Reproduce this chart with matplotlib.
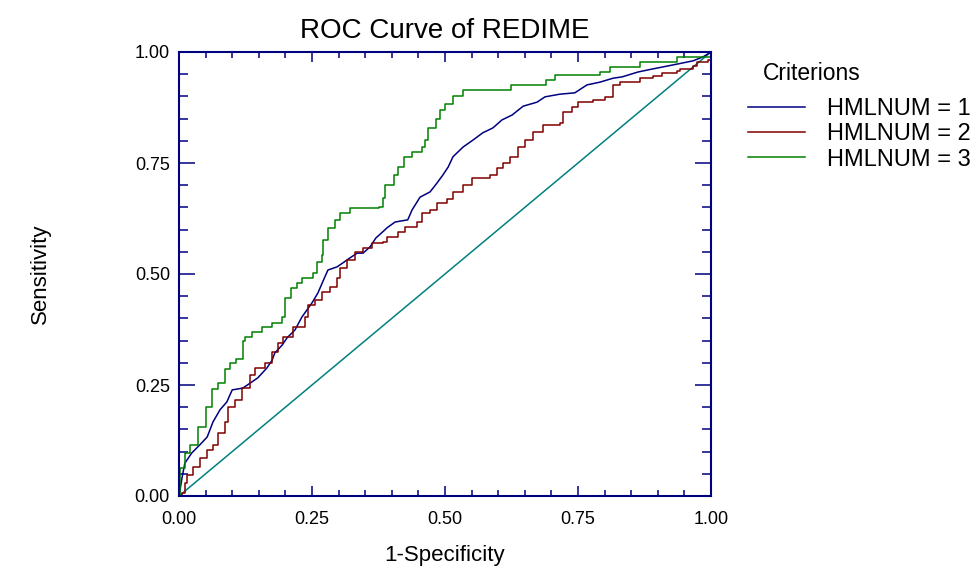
import numpy as np
import matplotlib
matplotlib.use("Agg")
import matplotlib.pyplot as plt
from matplotlib.ticker import MultipleLocator, FormatStrFormatter

plt.rcParams["font.family"] = ["Liberation Sans", "DejaVu Sans"]

# ROC coordinates (1-specificity, sensitivity) per criterion
fpr_1 = [0, 0.006, 0.011, 0.024, 0.039, 0.053, 0.064, 0.077, 0.090, 0.100, 0.120, 0.148,
         0.165, 0.175, 0.180, 0.194, 0.203, 0.218, 0.231, 0.250, 0.261, 0.274, 0.280, 0.297,
         0.308, 0.321, 0.335, 0.346, 0.359, 0.370, 0.383, 0.391, 0.406, 0.430, 0.438, 0.453,
         0.472, 0.485, 0.496, 0.506, 0.515, 0.534, 0.553, 0.571, 0.590, 0.607, 0.626, 0.647,
         0.673, 0.688, 0.716, 0.744, 0.767, 0.791, 0.816, 0.833, 0.863, 0.891, 0.929, 0.966,
         0.985, 1.0]
tpr_1 = [0, 0.043, 0.074, 0.097, 0.115, 0.133, 0.167, 0.194, 0.212, 0.239, 0.243, 0.266,
         0.288, 0.306, 0.322, 0.340, 0.356, 0.374, 0.403, 0.435, 0.457, 0.493, 0.509, 0.516,
         0.525, 0.536, 0.547, 0.547, 0.561, 0.581, 0.595, 0.604, 0.617, 0.622, 0.644, 0.673,
         0.685, 0.705, 0.723, 0.741, 0.764, 0.786, 0.802, 0.818, 0.829, 0.847, 0.858, 0.878,
         0.887, 0.899, 0.905, 0.908, 0.926, 0.932, 0.941, 0.944, 0.955, 0.962, 0.971, 0.980,
         0.989, 1.0]

fpr_2 = [0, 0.006, 0.011, 0.015, 0.026, 0.039, 0.053, 0.064, 0.073, 0.086, 0.092, 0.105,
         0.118, 0.133, 0.143, 0.162, 0.175, 0.186, 0.195, 0.214, 0.237, 0.242, 0.256, 0.269,
         0.284, 0.297, 0.303, 0.316, 0.331, 0.346, 0.363, 0.383, 0.391, 0.412, 0.425, 0.447,
         0.457, 0.472, 0.485, 0.504, 0.515, 0.534, 0.551, 0.585, 0.598, 0.609, 0.622, 0.637,
         0.650, 0.665, 0.684, 0.716, 0.722, 0.739, 0.750, 0.778, 0.801, 0.816, 0.829, 0.867,
         0.891, 0.908, 0.936, 0.942, 0.966, 0.974, 0.994, 1.0]
tpr_2 = [0, 0.007, 0.029, 0.047, 0.065, 0.086, 0.104, 0.115, 0.142, 0.167, 0.200, 0.216,
         0.243, 0.273, 0.288, 0.300, 0.324, 0.345, 0.358, 0.381, 0.403, 0.430, 0.441, 0.459,
         0.471, 0.491, 0.514, 0.532, 0.550, 0.559, 0.570, 0.572, 0.583, 0.595, 0.606, 0.617,
         0.637, 0.644, 0.660, 0.669, 0.685, 0.700, 0.716, 0.723, 0.739, 0.750, 0.764, 0.786,
         0.802, 0.820, 0.836, 0.840, 0.865, 0.876, 0.887, 0.892, 0.899, 0.926, 0.932, 0.941,
         0.946, 0.953, 0.957, 0.962, 0.968, 0.977, 0.982, 1.0]

fpr_3 = [0, 0.002, 0.011, 0.021, 0.036, 0.051, 0.062, 0.073, 0.086, 0.096, 0.107, 0.120,
         0.124, 0.137, 0.156, 0.175, 0.194, 0.199, 0.211, 0.222, 0.231, 0.252, 0.259, 0.269,
         0.271, 0.280, 0.293, 0.303, 0.321, 0.376, 0.383, 0.387, 0.404, 0.412, 0.423, 0.438,
         0.457, 0.462, 0.468, 0.483, 0.491, 0.500, 0.515, 0.534, 0.624, 0.690, 0.707, 0.791,
         0.795, 0.810, 0.867, 0.936, 0.992, 1.0]
tpr_3 = [0, 0.063, 0.097, 0.115, 0.155, 0.200, 0.241, 0.255, 0.286, 0.300, 0.309, 0.349,
         0.358, 0.369, 0.381, 0.390, 0.403, 0.446, 0.468, 0.480, 0.491, 0.502, 0.527, 0.543,
         0.577, 0.604, 0.622, 0.637, 0.649, 0.651, 0.671, 0.700, 0.723, 0.741, 0.764, 0.775,
         0.786, 0.802, 0.829, 0.849, 0.869, 0.883, 0.901, 0.914, 0.926, 0.937, 0.948, 0.955,
         0.955, 0.966, 0.977, 0.989, 0.989, 1.0]

labels = ["HMLNUM = 1", "HMLNUM = 2", "HMLNUM = 3"]
colors = ["#000080", "#800000", "#008000"]
NAVY = "#000080"

fig = plt.figure(figsize=(9.78, 5.66), dpi=100)
ax = fig.add_axes([179 / 978, 70 / 566, 532 / 978, 444 / 566])

ax.plot([0, 1], [0, 1], color="#008080", lw=1.1, zorder=1)
curves = [(fpr_1, tpr_1, "default"), (fpr_2, tpr_2, "steps-post"),
          (fpr_3, tpr_3, "steps-post")]
for (x, y, ds), lab, c in zip(curves, labels, colors):
    ax.plot(x, y, color=c, lw=1.1, label=lab, drawstyle=ds, zorder=2)

ax.set_xlim(0, 1)
ax.set_ylim(0, 1)
for a in (ax.xaxis, ax.yaxis):
    a.set_major_locator(MultipleLocator(0.25))
    a.set_minor_locator(MultipleLocator(0.05))
    a.set_major_formatter(FormatStrFormatter("%.2f"))

for s in ax.spines.values():
    s.set_color(NAVY)
    s.set_linewidth(1.5)
ax.tick_params(which="both", direction="in", top=True, right=True, color=NAVY,
               width=1.1, labelsize=13, labelcolor="black")
ax.tick_params(axis="x", which="major", length=7, pad=11)
ax.tick_params(axis="x", which="minor", length=4)
ax.tick_params(axis="y", which="major", length=11.5, pad=6.5)
ax.tick_params(axis="y", which="minor", length=6.5)

ax.set_title("ROC Curve of REDIME", fontsize=20, pad=10)
ax.set_xlabel("1-Specificity", fontsize=16, labelpad=12)
ax.set_ylabel("Sensitivity", fontsize=16)
ax.yaxis.set_label_coords(-0.24, 0.5)

fig.text(763 / 978, 1 - 73 / 566, "Criterions", fontsize=16.5, va="center", ha="left")
ax.legend(loc="upper left", bbox_to_anchor=(748 / 978, 1 - 98 / 566),
          bbox_transform=fig.transFigure, frameon=False, fontsize=17,
          handlelength=2.4, handletextpad=0.95, labelspacing=0.14, borderaxespad=0,
          borderpad=0)

fig.savefig("out.png", dpi=100)
